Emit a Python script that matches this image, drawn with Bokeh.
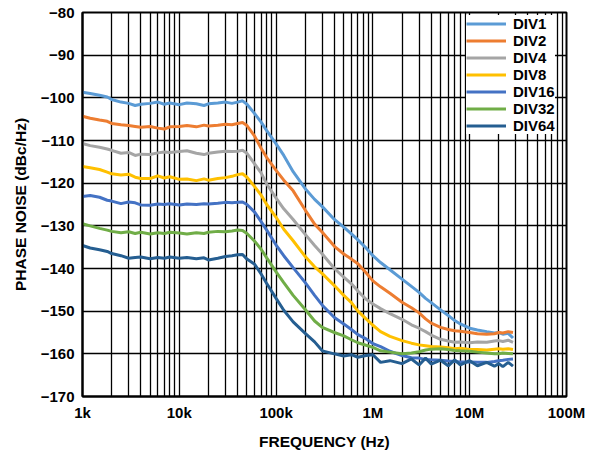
from bokeh.plotting import figure
from bokeh.models import FixedTicker, Legend, LegendItem, Range1d
from bokeh.embed import file_html
from bokeh.resources import INLINE

# ---------------- data ----------------
freq_hz = [1e3, 1.2e3, 1.5e3, 1.8e3, 2e3, 2.5e3, 3e3, 3.5e3, 4e3, 5e3,
           6e3, 7e3, 8e3, 1e4, 1.2e4, 1.5e4, 1.8e4, 2e4, 2.5e4, 3e4,
           3.5e4, 4e4, 4.5e4, 5e4, 6e4, 7e4, 8e4, 1e5, 1.2e5, 1.5e5,
           2e5, 2.5e5, 3e5, 4e5, 5e5, 6e5, 7e5, 8.5e5, 1e6, 1.2e6,
           1.5e6, 2e6, 2.5e6, 3e6, 3.5e6, 4e6, 5e6, 6e6, 7e6, 8e6,
           1e7, 1.2e7, 1.5e7, 1.8e7, 2e7, 2.2e7, 2.5e7, 2.8e7]

div1 = [-98.7, -99.0, -99.4, -99.8, -100.4, -101.0, -101.3, -101.8, -101.5, -101.3,
        -101.0, -101.5, -101.2, -101.6, -101.2, -101.4, -101.8, -101.4, -101.2, -101.0,
        -101.3, -101.0, -100.7, -101.5, -103.7, -105.7, -107.7, -110.8, -113.5, -117.3,
        -121.3, -123.8, -125.5, -128.5, -130.3, -131.9, -133.3, -135.2, -137.0, -138.6,
        -140.3, -142.5, -144.2, -145.6, -147.0, -148.0, -149.7, -151.0, -152.2, -153.0,
        -154.0, -154.4, -154.8, -155.1, -155.0, -155.4, -155.2, -156.3]

div2 = [-104.3, -104.8, -105.2, -105.5, -106.0, -106.3, -106.5, -106.7, -106.9, -106.7,
        -107.1, -107.3, -106.8, -106.7, -106.5, -106.8, -106.4, -106.6, -106.4, -106.2,
        -106.3, -106.0, -105.8, -106.5, -109.0, -111.8, -114.0, -117.0, -119.3, -121.8,
        -126.3, -129.6, -131.5, -134.8, -136.6, -137.8, -138.9, -141.0, -142.9, -144.3,
        -145.8, -147.9, -149.2, -150.4, -151.8, -152.8, -153.8, -154.3, -154.6, -154.7,
        -155.0, -155.3, -155.4, -155.3, -155.0, -155.1, -154.8, -155.0]

div4 = [-110.7, -111.2, -111.6, -112.0, -112.3, -113.0, -112.8, -113.5, -113.2, -113.3,
        -112.9, -112.7, -112.8, -112.6, -112.4, -113.0, -113.3, -113.0, -112.7, -112.5,
        -112.6, -112.5, -112.3, -113.0, -115.5, -117.6, -120.2, -123.5, -126.0, -128.5,
        -132.0, -134.6, -136.6, -140.0, -142.0, -143.6, -145.3, -147.2, -148.3, -149.4,
        -150.6, -151.9, -153.2, -154.0, -154.8, -155.6, -156.6, -157.0, -157.3, -157.2,
        -157.4, -157.2, -157.3, -157.0, -156.9, -157.1, -156.8, -157.3]

div8 = [-116.1, -116.4, -116.8, -117.4, -117.8, -118.1, -117.9, -118.6, -118.9, -118.9,
        -118.3, -118.8, -118.5, -119.1, -119.0, -119.4, -119.0, -119.3, -118.9, -118.7,
        -118.4, -118.0, -117.8, -118.6, -120.8, -122.8, -125.0, -128.0, -130.8, -133.5,
        -137.2, -139.6, -141.2, -144.0, -146.3, -148.0, -150.0, -151.8, -153.3, -154.8,
        -155.9, -156.9, -157.5, -157.9, -158.1, -158.3, -158.4, -158.6, -158.8, -158.7,
        -159.0, -159.0, -159.1, -158.9, -158.8, -158.9, -158.8, -159.0]

div16 = [-123.1, -122.9, -123.3, -124.0, -124.2, -124.8, -124.4, -124.6, -125.1, -125.2,
         -124.9, -125.0, -124.8, -125.1, -124.9, -125.0, -124.8, -124.9, -124.7, -124.5,
         -124.6, -124.5, -124.4, -125.0, -126.8, -129.0, -131.0, -134.5, -137.0, -139.8,
         -143.3, -146.3, -148.6, -151.5, -153.0, -154.3, -155.5, -156.5, -157.6, -158.3,
         -159.4, -160.4, -160.9, -161.0, -161.3, -161.4, -161.5, -161.7, -161.8, -161.9,
         -161.9, -162.0, -162.0, -161.8, -161.6, -161.5, -161.3, -161.2]

div32 = [-129.5, -130.0, -130.6, -131.0, -131.3, -131.6, -131.4, -131.8, -131.5, -131.9,
         -131.6, -131.8, -131.5, -131.7, -131.9, -131.6, -131.8, -131.5, -131.3, -131.4,
         -131.2, -131.0, -131.1, -131.8, -133.6, -135.5, -137.5, -140.8, -143.3, -146.3,
         -149.6, -152.3, -153.8, -155.0, -155.8, -156.7, -157.4, -158.0, -158.5, -159.3,
         -159.6, -160.0, -159.8, -159.5, -159.1, -158.9, -158.8, -159.0, -159.2, -159.3,
         -159.4, -159.6, -159.8, -160.0, -160.0, -159.8, -159.9, -160.0]

div64 = [-134.6, -135.2, -135.6, -136.0, -136.5, -137.0, -137.6, -137.4, -137.3, -137.7,
         -137.4, -137.6, -137.3, -137.6, -137.4, -137.7, -137.5, -138.0, -137.6, -137.2,
         -137.0, -136.8, -136.7, -137.8, -139.0, -141.3, -143.5, -147.0, -149.8, -152.5,
         -155.2, -157.2, -159.3, -160.0, -160.5, -160.2, -160.8, -160.4, -160.2, -162.0,
         -161.6, -162.3, -161.2, -162.6, -161.0, -162.4, -161.5, -162.8, -161.4, -162.6,
         -161.6, -162.8, -162.0, -162.9, -162.3, -163.0, -162.0, -162.9]

series_names = ["DIV1", "DIV2", "DIV4", "DIV8", "DIV16", "DIV32", "DIV64"]
series_values = [div1, div2, div4, div8, div16, div32, div64]
series_colors = ["#5B9BD5", "#ED7D31", "#A5A5A5", "#FFC000", "#4472C4", "#70AD47", "#255E91"]

x_tick_values = [1e3, 1e4, 1e5, 1e6, 1e7, 1e8]
x_tick_labels = ["1k", "10k", "100k", "1M", "10M", "100M"]
y_tick_values = [-170, -160, -150, -140, -130, -120, -110, -100, -90, -80]
y_tick_labels = ["\u2212170", "\u2212160", "\u2212150", "\u2212140", "\u2212130",
                 "\u2212120", "\u2212110", "\u2212100", "\u221290", "\u221280"]

# ---------------- figure ----------------
FONT = "Liberation Sans"

p = figure(x_axis_type="log",
           x_range=Range1d(1e3, 1e8), y_range=Range1d(-170, -80),
           frame_width=484, frame_height=384,
           min_border_left=82, min_border_right=24,
           min_border_top=12, min_border_bottom=55,
           output_backend="svg", toolbar_location=None,
           background_fill_color="white", border_fill_color="white")

minor = [m * t for t in x_tick_values[:-1] for m in range(2, 10)]
xticker = FixedTicker(ticks=x_tick_values, minor_ticks=minor)
p.xaxis.ticker = xticker
p.xgrid.ticker = xticker
p.xaxis.major_label_overrides = dict(zip(x_tick_values, x_tick_labels))
yticker = FixedTicker(ticks=y_tick_values)
p.yaxis.ticker = yticker
p.ygrid.ticker = yticker
p.yaxis.major_label_overrides = dict(zip(y_tick_values, y_tick_labels))

for g in (p.xgrid, p.ygrid):
    g.grid_line_color = "black"
    g.grid_line_width = 1.3
    g.grid_line_alpha = 1
p.xgrid.minor_grid_line_color = "black"
p.xgrid.minor_grid_line_width = 1.3

p.outline_line_color = "black"
p.outline_line_width = 2

for ax in (p.xaxis, p.yaxis):
    ax.axis_line_color = "black"
    ax.axis_line_width = 2
    ax.major_tick_line_color = None
    ax.minor_tick_line_color = None
    ax.major_tick_out = 0
    ax.major_tick_in = 0
    ax.minor_tick_out = 0
    ax.minor_tick_in = 0
    ax.major_label_text_font = FONT
    ax.major_label_text_font_style = "bold"
    ax.major_label_text_font_size = "15px"
    ax.major_label_text_color = "black"
    ax.axis_label_text_font = FONT
    ax.axis_label_text_font_style = "bold"
    ax.axis_label_text_font_size = "15.5px"
    ax.axis_label_text_color = "black"

p.xaxis.axis_label = "FREQUENCY (Hz)"
p.yaxis.axis_label = "PHASE NOISE (dBc/Hz)"
p.xaxis.major_label_standoff = 7
p.yaxis.major_label_standoff = 8
p.xaxis.axis_label_standoff = 9
p.yaxis.axis_label_standoff = 9

items = []
for name, vals, col in zip(series_names, series_values, series_colors):
    r = p.line(freq_hz, vals, line_color=col, line_width=3)
    items.append(LegendItem(label=name, renderers=[r]))

legend = Legend(items=items, location=(384, 262),
                glyph_width=40, glyph_height=17, label_height=17,
                label_standoff=7, spacing=0, padding=5, margin=0,
                border_line_color=None, background_fill_color="white",
                background_fill_alpha=1,
                label_text_font=FONT, label_text_font_style="bold",
                label_text_font_size="15px", label_text_color="black")
p.add_layout(legend)

open("out.html", "w").write(file_html(p, INLINE))
